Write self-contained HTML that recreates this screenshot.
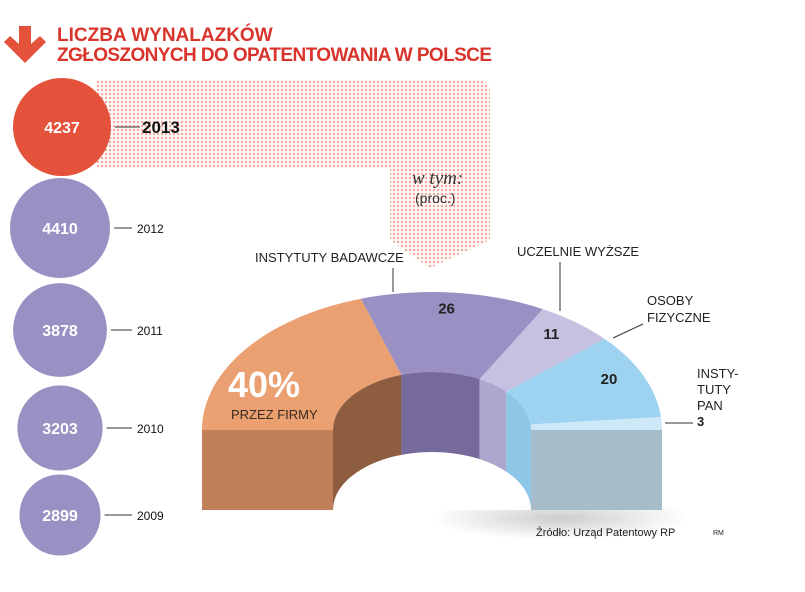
<!DOCTYPE html>
<html><head><meta charset="utf-8"><style>
body{margin:0;background:#fff;width:805px;height:592px;overflow:hidden}
svg{display:block;font-family:"Liberation Sans",sans-serif}
</style></head><body>
<svg id="c" width="805" height="592" viewBox="0 0 805 592">
<defs>
<pattern id="dots" width="4" height="4" patternUnits="userSpaceOnUse"><circle cx="2" cy="2" r="1.25" fill="#f0a898"/></pattern>
<radialGradient id="sh" cx="0.5" cy="0.5" r="0.5"><stop offset="0" stop-color="#000" stop-opacity="0.2"/><stop offset="1" stop-color="#000" stop-opacity="0"/></radialGradient>
</defs>
<path d="M95,80 H478 Q490,80 490,92 V240 L430,268 L390,240 V168 H95 Z" fill="url(#dots)"/>
<g>
<path d="M19,26 H31 V44 L40,36 L46,42 L25,63 L4,42 L10,36 L19,44 Z" fill="#e4523b"/>
<text x="57" y="41" font-size="19" font-weight="bold" fill="#d9342b">LICZBA WYNALAZKÓW</text>
<text x="57" y="61" font-size="19" font-weight="bold" fill="#d9342b" textLength="435">ZGŁOSZONYCH DO OPATENTOWANIA W POLSCE</text>
</g>
<g id="circles"></g>
<text x="412" y="184" font-family="Liberation Serif,serif" font-style="italic" font-size="19" fill="#333">w tym:</text>
<text x="415" y="203" font-size="14" fill="#333">(proc.)</text>
<ellipse cx="560" cy="518" rx="130" ry="22" fill="url(#sh)"/>
<g id="donut"></g>
<g font-size="13" fill="#222">
<text x="255" y="262">INSTYTUTY BADAWCZE</text>
<line x1="393" y1="268" x2="393" y2="292" stroke="#333"/>
<text x="517" y="256">UCZELNIE WYŻSZE</text>
<line x1="560" y1="262" x2="560" y2="311" stroke="#333"/>
<text x="647" y="305">OSOBY</text>
<text x="647" y="322">FIZYCZNE</text>
<line x1="613" y1="338" x2="643" y2="324" stroke="#333"/>
<text x="697" y="378">INSTY-</text>
<text x="697" y="394">TUTY</text>
<text x="697" y="410">PAN</text>
<text x="697" y="426" font-weight="bold">3</text>
<line x1="665" y1="423" x2="693" y2="423" stroke="#333"/>
</g>
<text x="536" y="536" font-size="11" fill="#222">Źródło: Urząd Patentowy RP</text>
<text x="713" y="535" font-size="7" fill="#222">RM</text>
</svg>
<script>
const years=["2013","2012","2011","2010","2009"];
const counts=[4237,4410,3878,3203,2899];
const segNames=["firmy","instytuty-badawcze","uczelnie","osoby-fizyczne","instytuty-pan"];
const segValues=[40,26,11,20,3];
const segLabels=["","26","11","20",""];
(function(){
const NS="http://www.w3.org/2000/svg";
function mk(t,a,p){const e=document.createElementNS(NS,t);for(const k in a)e.setAttribute(k,a[k]);p.appendChild(e);return e;}
const cg=document.getElementById('circles');
const cy=[127,228,330,428,515];
counts.forEach((v,i)=>{
  const r=50*Math.sqrt(v/4410), cx=i==0?62:60;
  const c=mk('circle',{cx:cx,cy:cy[i],r:r,fill:i==0?'#e4523b':'#9b90c4'},cg);
  
  
  const t=mk('text',{x:cx,y:cy[i]+6,'text-anchor':'middle','font-size':16,'font-weight':'bold',fill:'#fff'},cg);
  t.textContent=v;
  
  
  const l=mk('line',{x1:cx+r+4,y1:cy[i],x2:i==0?140:132,y2:cy[i],stroke:'#333'},cg);
  
  
  const y=mk('text',{x:i==0?142:137,y:cy[i]+(i==0?6:5),'font-size':i==0?17:12,'font-weight':i==0?'bold':'normal',fill:'#111'},cg);
  y.textContent=years[i];
  
  
});
const dg=document.getElementById('donut');
const CX=432,CY=430,RX=230,RY=138,IX=99,IY=58,BOT=510;
const topCols=['#eba071','#9b90c4','#c7c1e1','#9dd3f1','#cde9f8'];
const wallCols=['#8e5d3f','#76699b','#aea6cc','#8dc6e6','#8dc6e6'];
const total=segValues.reduce((a,b)=>a+b,0);
const ang=p=>Math.PI*(1-p/total);
let cum=0;
const ptO=a=>[CX+RX*Math.cos(a),CY-RY*Math.sin(a)], ptI=a=>[CX+IX*Math.cos(a),CY-IY*Math.sin(a)];
segValues.forEach((v,i)=>{
  const a0=ang(cum),a1=ang(cum+v);cum+=v;
  const o0=ptO(a0),o1=ptO(a1),i0=ptI(a0),i1=ptI(a1);
  const p=mk('path',{d:`M${o0} A${RX},${RY} 0 0 1 ${o1} L${i1} A${IX},${IY} 0 0 0 ${i0} Z`,fill:topCols[i]},dg);
  
  
  const x0=i0[0],x1=i1[0];
  const w=mk('path',{d:`M${i0} A${IX},${IY} 0 0 1 ${i1} L${x1},${BOT} L${x0},${BOT} Z`,fill:wallCols[i]},dg);
  
  
  if(segLabels[i]){
    const am=(a0+a1)/2, rr=0.75;
    const t=mk('text',{x:CX+(IX+(RX-IX)*rr)*Math.cos(am)-4,y:CY-(IY+(RY-IY)*rr)*Math.sin(am)+1,'text-anchor':'middle','font-size':15,'font-weight':'bold',fill:'#222'},dg);
    t.textContent=segLabels[i];
    
    
  }
});
const hole=mk('path',{d:`M${CX-IX},${BOT} A${IX},${IY} 0 0 1 ${CX+IX},${BOT} Z`,fill:'#fff'},dg);


const fl=mk('rect',{x:CX-RX,y:CY,width:RX-IX,height:BOT-CY,fill:'#c17f5a'},dg);


const fr=mk('rect',{x:CX+IX,y:CY,width:RX-IX,height:BOT-CY,fill:'#a7bccb'},dg);


const big=mk('text',{x:228,y:397,'font-size':36,'font-weight':'bold',fill:'#fff'},dg);
big.textContent=segValues[0]+'%';


const sub=mk('text',{x:231,y:419,'font-size':13,fill:'#3a2a20'},dg);
sub.textContent='PRZEZ FIRMY';


})();
</script>
</body></html>
